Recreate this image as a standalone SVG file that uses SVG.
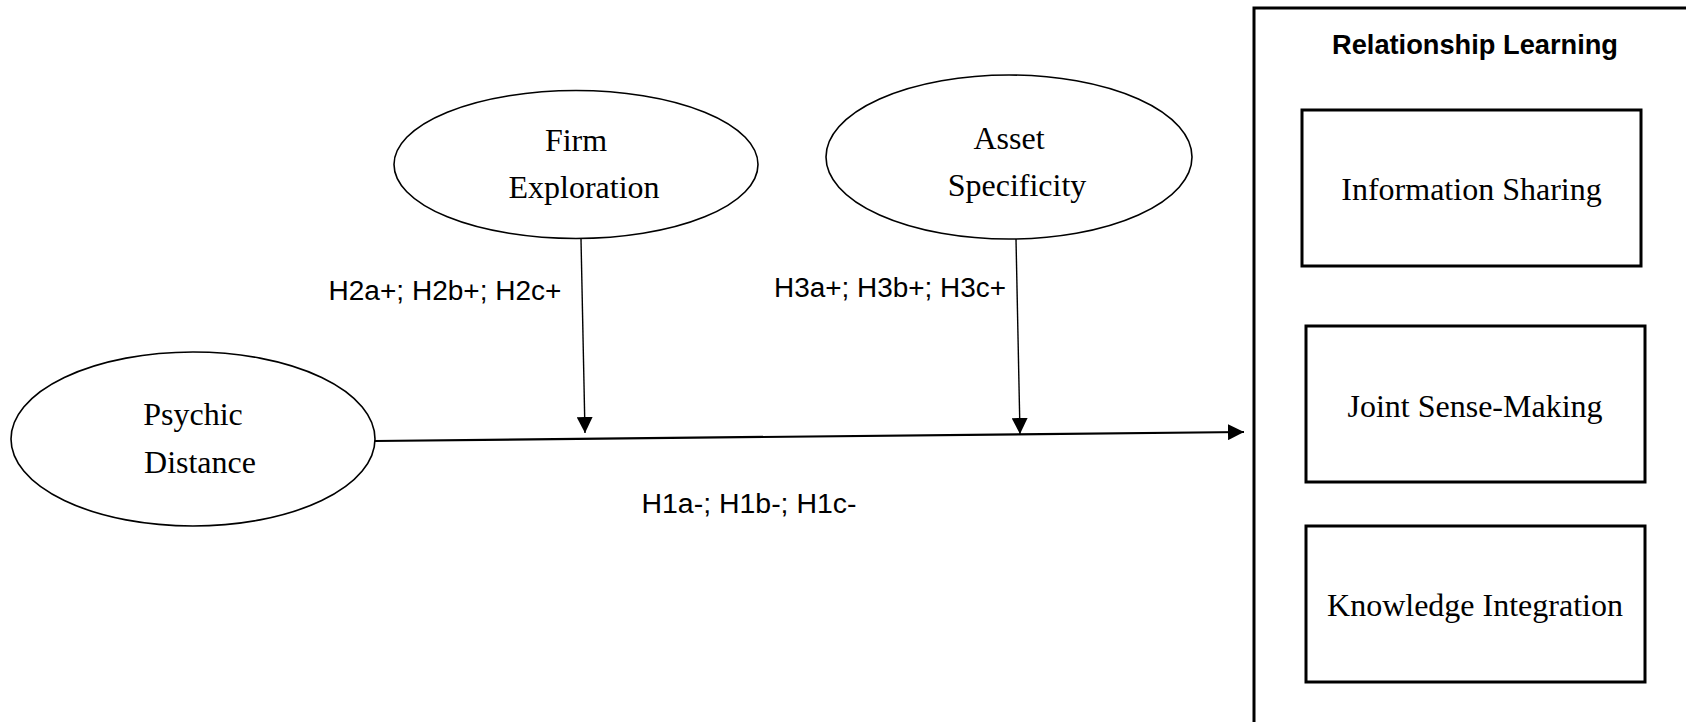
<svg xmlns="http://www.w3.org/2000/svg" width="1686" height="722" viewBox="0 0 1686 722">
<style>
.ell{fill:#fff;stroke:#000;stroke-width:1.6}
.box{fill:#fff;stroke:#000;stroke-width:3}
.serif{font-family:"Liberation Serif","Times New Roman",serif;font-size:32px;fill:#000;text-anchor:middle}
.lab{font-family:"Liberation Sans",Arial,sans-serif;font-size:27px;fill:#000;text-anchor:middle}
.title{font-family:"Liberation Sans",Arial,sans-serif;font-size:27px;font-weight:bold;fill:#000;text-anchor:middle}
.conn{fill:none;stroke:#000}
</style>
<defs>
<marker id="arr" viewBox="0 0 16 16" refX="16" refY="8" markerWidth="16" markerHeight="16" markerUnits="userSpaceOnUse" orient="auto">
<path d="M0,0 L16,8 L0,16 z" fill="#000"/>
</marker>
</defs>
<rect width="1686" height="722" fill="#fff"/>
<g id="relationship-learning">
<path d="M1254,722 L1254,8 L1690,8" fill="none" stroke="#000" stroke-width="3"/>
<text class="title" x="1475" y="54" textLength="286" lengthAdjust="spacingAndGlyphs">Relationship Learning</text>
</g>
<g id="information-sharing">
<rect class="box" x="1302" y="110" width="339" height="156"/>
<text class="serif" x="1471.5" y="200">Information Sharing</text>
</g>
<g id="joint-sense-making">
<rect class="box" x="1306" y="326" width="339" height="156"/>
<text class="serif" x="1475" y="417">Joint Sense-Making</text>
</g>
<g id="knowledge-integration">
<rect class="box" x="1306" y="526" width="339" height="156"/>
<text class="serif" x="1475" y="616">Knowledge Integration</text>
</g>
<g id="psychic-distance">
<ellipse class="ell" cx="193" cy="439" rx="182" ry="87"/>
<text class="serif" x="193" y="425">Psychic</text>
<text class="serif" x="200" y="473">Distance</text>
</g>
<g id="firm-exploration">
<ellipse class="ell" cx="576" cy="164.5" rx="182" ry="74"/>
<text class="serif" x="576" y="151">Firm</text>
<text class="serif" x="584" y="198">Exploration</text>
</g>
<g id="asset-specificity">
<ellipse class="ell" cx="1009" cy="157" rx="183" ry="82"/>
<text class="serif" x="1009" y="149">Asset</text>
<text class="serif" x="1017" y="196">Specificity</text>
</g>
<g id="connectors">
<line class="conn" x1="375" y1="441" x2="1244" y2="432" stroke-width="2.2" marker-end="url(#arr)"/>
<line class="conn" x1="581" y1="239" x2="585" y2="433" stroke-width="1.4" marker-end="url(#arr)"/>
<line class="conn" x1="1016" y1="239" x2="1020" y2="434" stroke-width="1.4" marker-end="url(#arr)"/>
<text class="lab" x="445" y="300" textLength="233" lengthAdjust="spacingAndGlyphs">H2a+; H2b+; H2c+</text>
<text class="lab" x="890" y="297" textLength="232" lengthAdjust="spacingAndGlyphs">H3a+; H3b+; H3c+</text>
<text class="lab" x="749" y="513" textLength="215" lengthAdjust="spacingAndGlyphs">H1a-; H1b-; H1c-</text>
</g>
</svg>
